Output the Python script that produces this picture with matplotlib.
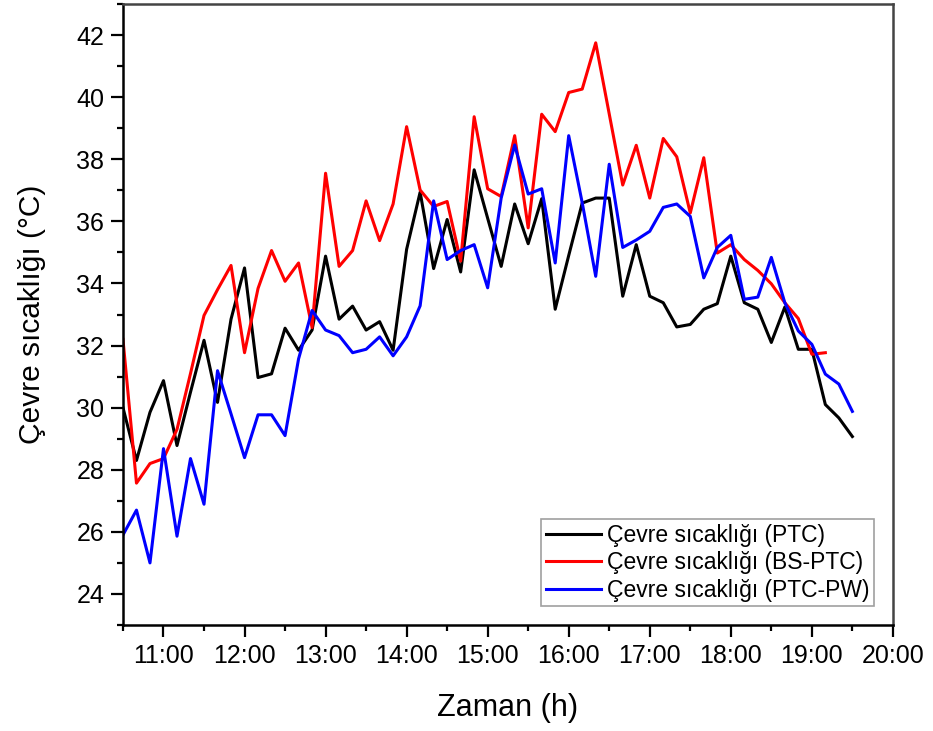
import numpy as np
import matplotlib
matplotlib.use('Agg')
import matplotlib.pyplot as plt
from matplotlib.ticker import MultipleLocator, FuncFormatter

plt.rcParams['font.family'] = ['Liberation Sans', 'DejaVu Sans']

# time in hours, one reading every 10 minutes from 10:30
START_H = 10.5
STEP_H = 1.0 / 6.0

ptc = [30.0, 28.3, 29.85, 30.87, 28.78, 30.5, 32.17, 30.17, 32.85, 34.5,
       30.97, 31.09, 32.56, 31.85, 32.5, 34.88, 32.85, 33.27, 32.5, 32.77,
       31.85, 35.1, 36.94, 34.48, 36.06, 34.37, 37.66, 36.1, 34.55, 36.56,
       35.28, 36.73, 33.17, 34.9, 36.59, 36.75, 36.75, 33.59, 35.25, 33.59,
       33.38, 32.6, 32.68, 33.17, 33.35, 34.88, 33.38, 33.17, 32.1, 33.24,
       31.88, 31.88, 30.1, 29.67, 29.07]

bs_ptc = [32.2, 27.57, 28.2, 28.36, 29.3, 31.1, 32.97, 33.8, 34.58, 31.77,
          33.84, 35.06, 34.07, 34.66, 32.58, 37.55, 34.55, 35.06, 36.66, 35.38,
          36.56, 39.05, 37.01, 36.48, 36.64, 34.72, 39.37, 37.05, 36.8, 38.76,
          35.79, 39.45, 38.89, 40.15, 40.26, 41.75, 39.46, 37.17, 38.45, 36.75,
          38.67, 38.08, 36.27, 38.05, 34.98, 35.25, 34.77, 34.42, 33.99, 33.38,
          32.87, 31.72, 31.77]

ptc_pw = [25.9, 26.7, 25.0, 28.68, 25.86, 28.36, 26.89, 31.19, 29.8, 28.39,
          29.77, 29.77, 29.1, 31.57, 33.13, 32.5, 32.32, 31.77, 31.88, 32.28,
          31.67, 32.28, 33.28, 36.66, 34.77, 35.06, 35.25, 33.86, 36.75, 38.46,
          36.88, 37.05, 34.66, 38.76, 36.6, 34.23, 37.84, 35.16, 35.4, 35.68,
          36.45, 36.56, 36.16, 34.18, 35.16, 35.55, 33.49, 33.56, 34.84, 33.38,
          32.47, 32.04, 31.08, 30.76, 29.88]

labels = ['Çevre sıcaklığı (PTC)', 'Çevre sıcaklığı (BS-PTC)',
          'Çevre sıcaklığı (PTC-PW)']


def times(values):
    return START_H + STEP_H * np.arange(len(values))


fig = plt.figure(figsize=(9.33, 7.31), dpi=100)
ax = fig.add_axes([0.1318, 0.145, 0.957 - 0.1318, 0.9945 - 0.145])

ax.plot(times(ptc), ptc, color='black', lw=2.2, label=labels[0])
ax.plot(times(bs_ptc), bs_ptc, color='#ff0000', lw=2.2, label=labels[1])
ax.plot(times(ptc_pw), ptc_pw, color='#0000ff', lw=2.2, label=labels[2])

ax.set_xlim(10.5, 20)
ax.set_ylim(23, 43)

ax.xaxis.set_major_locator(MultipleLocator(1))
ax.xaxis.set_minor_locator(MultipleLocator(0.5))
ax.xaxis.set_major_formatter(FuncFormatter(lambda v, p: '%d:00' % int(round(v))))
ax.yaxis.set_major_locator(MultipleLocator(2))
ax.yaxis.set_minor_locator(MultipleLocator(1))

ax.tick_params(which='both', direction='out', width=1.6, labelsize=18,
               top=False, right=False)
ax.tick_params(which='major', length=8.5, pad=5)
ax.tick_params(which='minor', length=4)

for side in ['left', 'bottom']:
    ax.spines[side].set_linewidth(1.8)
for side in ['top', 'right']:
    ax.spines[side].set_linewidth(1.8)
    ax.spines[side].set_color('#444444')

ax.set_xlabel('Zaman (h)', fontsize=22, labelpad=18)
ax.set_ylabel('Çevre sıcaklığı (°C)', fontsize=21.5, labelpad=22)

leg = ax.legend(loc='lower right', bbox_to_anchor=(0.975, 0.03), fontsize=16.5,
                frameon=True, fancybox=False, handlelength=2.4,
                handletextpad=0.25, labelspacing=0.2, borderpad=0.2,
                borderaxespad=0)
leg.get_frame().set_edgecolor('#888888')
leg.get_frame().set_linewidth(1.2)

fig.savefig('out.png', dpi=100)
